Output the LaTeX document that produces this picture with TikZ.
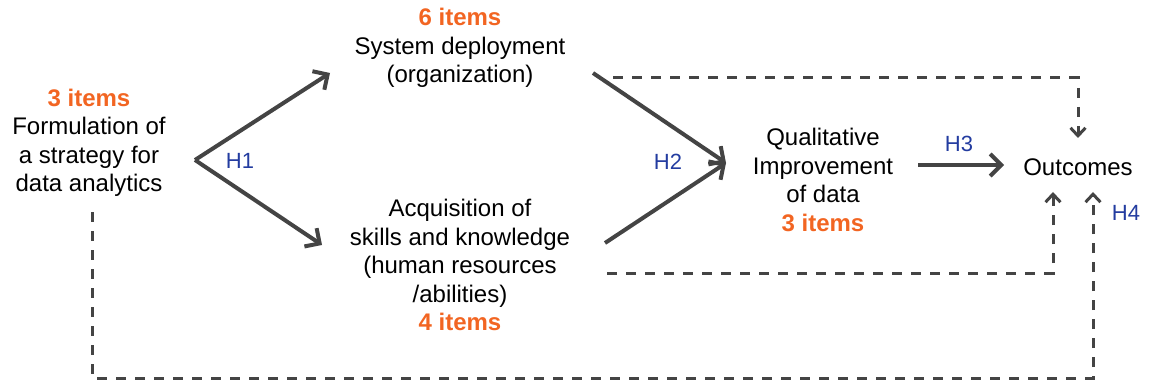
\documentclass[tikz,border=0pt]{standalone}
\usepackage{fontspec}
\setmainfont{Liberation Sans}
\usetikzlibrary{arrows.meta,positioning}

\definecolor{itemorange}{RGB}{242,101,34}
\definecolor{hypblue}{RGB}{35,60,160}
\definecolor{arrowgray}{RGB}{68,68,68}
\newcommand{\items}[1]{\textcolor{itemorange}{\bfseries #1 items}}

\begin{document}
\begin{tikzpicture}[x=1pt, y=-1pt,
  every node/.style={align=center, inner sep=0pt, font=\fontsize{24}{28.5}\selectfont},
  hyp/.style={-{Straight Barb[length=11pt,width=22pt]}, line width=4pt, draw=arrowgray},
  link/.style={-{Straight Barb[length=8pt,width=15pt]}, line width=3pt, draw=arrowgray,
    dash pattern=on 10pt off 9pt},
  hlabel/.style={text=hypblue, font=\fontsize{22}{24}\selectfont}
]
\useasboundingbox (0,0) rectangle (1152,385);

% constructs
\node (strategy) at (89,143) {\items{3}\\Formulation of\\a strategy for\\data analytics};
\node (system) at (460,48) {\items{6}\\System deployment\\(organization)};
\node (skills) at (460,265) {Acquisition of\\skills and knowledge\\(human resources\\/abilities)\\\items{4}};
\node (quality) at (823,180) {Qualitative\\Improvement\\of data\\\items{3}};
\node (outcomes) at (1078,167) {Outcomes};

% arrow end points
\coordinate (h1) at (195,160);
\coordinate (h1top) at (330,73);
\coordinate (h1bot) at (322,245);
\coordinate (h2top) at (593,73);
\coordinate (h2bot) at (605,243);
\coordinate (h2) at (726,163);
\coordinate (h3s) at (918,165);
\coordinate (h3e) at (1004,165);

% hypotheses
\draw[hyp] (h1) -- (h1top);
\draw[hyp] (h1) -- (h1bot);
\draw[hyp] (h2top) -- (h2);
\draw[hyp] (h2bot) -- (h2);
\draw[hyp] (h3s) -- (h3e);

\node[hlabel] (lh1) at (240,161) {H1};
\node[hlabel] (lh2) at (668,162) {H2};
\node[hlabel] (lh3) at (959,144) {H3};
\node[hlabel] (lh4) at (1126,213) {H4};

% direct links to outcomes
\coordinate (d1) at (613,78);
\coordinate (d1e) at (1078,138);
\draw[link] (d1) -| (d1e);

\coordinate (d2) at (607,273);
\coordinate (d2e) at (1053,192);
\draw[link] (d2) -| (d2e);

\coordinate (d3) at (92,212);
\coordinate (d3c) at (1093,378);
\coordinate (d3e) at (1093,192);
\draw[link] (d3) |- (d3c) -- (d3e);
\end{tikzpicture}
\end{document}
